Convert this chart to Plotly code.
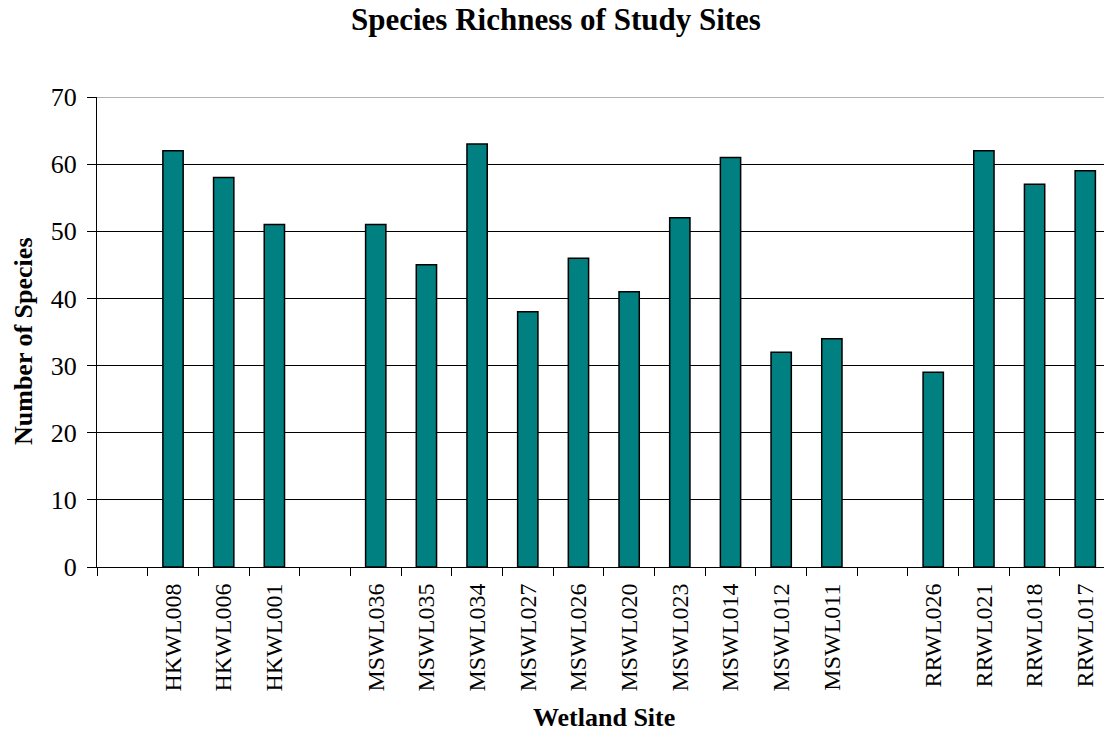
import plotly.graph_objects as go

# Wetland sites grouped by watershed; blank entries separate the groups
sites = [" ", "HKWL008", "HKWL006", "HKWL001", "  ",
         "MSWL036", "MSWL035", "MSWL034", "MSWL027", "MSWL026",
         "MSWL020", "MSWL023", "MSWL014", "MSWL012", "MSWL011", "   ",
         "RRWL026", "RRWL021", "RRWL018", "RRWL017"]
species_count = [None, 62, 58, 51, None,
                 51, 45, 63, 38, 46,
                 41, 52, 61, 32, 34, None,
                 29, 62, 57, 59]
y_ticks = [0, 10, 20, 30, 40, 50, 60, 70]

W, H = 1104, 733
L, R, T, B = 97, 0, 97, 166
plot_w = W - L - R
plot_h = H - T - B
cat_px = 50.68  # pixel width of one category slot


def px_x(px):
    return (px - L) / plot_w


def px_y(py):
    return (H - B - py) / plot_h


serif = "Liberation Serif, Times New Roman, serif"

fig = go.Figure()
fig.add_trace(go.Bar(
    x=sites,
    y=species_count,
    width=0.4,
    marker=dict(color="#008080", line=dict(color="black", width=1.5)),
    hoverinfo="x+y",
))

fig.update_layout(
    width=W, height=H,
    margin=dict(l=L, r=R, t=T, b=B, pad=0),
    plot_bgcolor="white", paper_bgcolor="white",
    showlegend=False,
    font=dict(family=serif, color="black"),
    xaxis=dict(
        type="category",
        categoryorder="array", categoryarray=sites,
        range=[-0.5, -0.5 + plot_w / cat_px],
        tickson="boundaries",
        ticks="outside", ticklen=8, tickwidth=1, tickcolor="black",
        tickangle=-90,
        tickfont=dict(family=serif, size=24, color="black"),
        showline=True, linecolor="black", linewidth=1,
        showgrid=False,
        ticklabelstandoff=6,
    ),
    yaxis=dict(
        range=[0, 70],
        tickvals=y_ticks,
        ticks="outside", ticklen=9, tickwidth=1, tickcolor="black",
        tickfont=dict(family=serif, size=26, color="black"),
        showline=True, linecolor="black", linewidth=1,
        showgrid=True, gridcolor="black", gridwidth=1,
        zeroline=False,
        ticklabelstandoff=5,
    ),
    shapes=[
        # lighter top border of the plot area at the maximum value
        dict(type="line", xref="paper", yref="y", x0=0, x1=1,
             y0=y_ticks[-1], y1=y_ticks[-1],
             line=dict(color="#999999", width=1.5), layer="above"),
    ],
    annotations=[
        dict(text="<b>Species Richness of Study Sites</b>",
             x=px_x(556), y=px_y(19), xref="paper", yref="paper",
             xanchor="center", yanchor="middle", showarrow=False,
             font=dict(family=serif, size=31, color="black")),
        dict(text="<b>Wetland Site</b>",
             x=px_x(603.5), y=px_y(717), xref="paper", yref="paper",
             xanchor="center", yanchor="middle", showarrow=False,
             font=dict(family=serif, size=26, color="black")),
        dict(text="<b>Number of Species</b>",
             x=px_x(23), y=px_y(341), xref="paper", yref="paper",
             xanchor="center", yanchor="middle", showarrow=False,
             textangle=-90,
             font=dict(family=serif, size=26, color="black")),
    ],
)

fig.write_html("out.html")
